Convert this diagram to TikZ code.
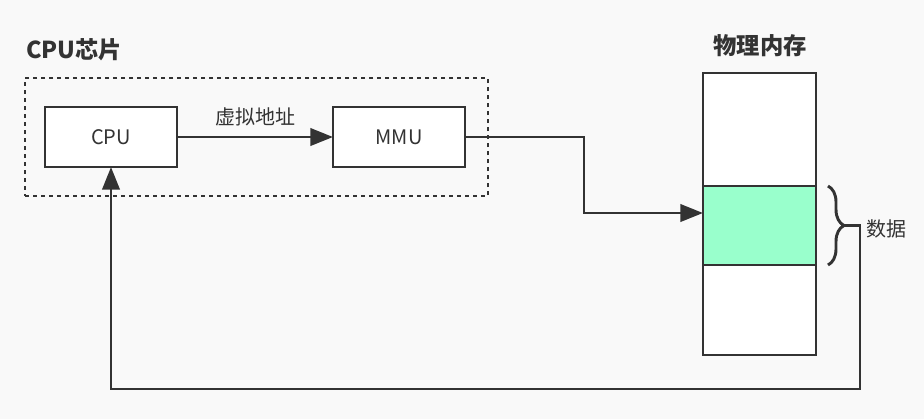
\documentclass[tikz,border=0pt]{standalone}
\usepackage{fontspec}
\setmainfont{Noto Sans CJK SC}
\usetikzlibrary{arrows.meta,decorations.pathreplacing}
\definecolor{bg}{HTML}{F9F9F9}
\definecolor{ink}{HTML}{333333}
\definecolor{green}{HTML}{99FFCC}
\tikzset{
  box/.style={draw=ink, line width=2.2pt, fill=white, inner sep=0pt, outer sep=0pt, text=ink, font=\fontsize{15pt}{18pt}\selectfont},
  chip/.style={draw=ink, line width=2.2pt, dash pattern=on 3pt off 3pt, inner sep=0pt, outer sep=0pt},
  conn/.style={draw=ink, line width=2.2pt},
  arr/.style={conn, -{Triangle[length=17pt,width=13pt]}},
  title/.style={text=ink, font=\fontsize{17.5pt}{21pt}\selectfont\bfseries, inner sep=0pt},
  lbl/.style={text=ink, font=\fontsize{15pt}{18pt}\selectfont, inner sep=0pt},
}
\begin{document}
\begin{tikzpicture}[x=0.75pt,y=-0.75pt]
\fill[bg] (0,0) rectangle (924,419);
\useasboundingbox (0,0) rectangle (924,419);
\node[chip, minimum width=347.25pt, minimum height=88.5pt] (chipbox) at (256.5,137) {};
\node[title, anchor=west] (chiptitle) at (26,50) {CPU芯片};
\node[box, minimum width=99pt, minimum height=45pt] (cpu) at (111,137) {CPU};
\node[box, minimum width=99pt, minimum height=45pt] (mmu) at (399,137) {MMU};
\node[title] (memtitle) at (760,46) {物理内存};
\node[box, minimum width=84.75pt, minimum height=84.75pt] (top) at (759.5,129.5) {};
\node[box, fill=green, minimum width=84.75pt, minimum height=59.25pt] (mid) at (759.5,225.5) {};
\node[box, minimum width=84.75pt, minimum height=67.5pt] (bot) at (759.5,310) {};
\draw[arr] (cpu.east) -- node[lbl, above=7pt] (va) {虚拟地址} (mmu.west);
\coordinate (bend1) at (584,213);
\draw[arr] (mmu.east) -| (bend1) -- (bend1 -| mid.west);
\coordinate (bs) at (828,186);
\coordinate (be) at (828,265);
\draw[conn, decorate, decoration={brace, amplitude=12pt}] (bs) -- (be);
\coordinate (bt) at (844,225.5);
\coordinate (c1) at (860,389);
\node[lbl, anchor=west] (data) at (866,229) {数据};
\draw[arr] (bt) -| (c1) -| (cpu.south);
\end{tikzpicture}
\end{document}
